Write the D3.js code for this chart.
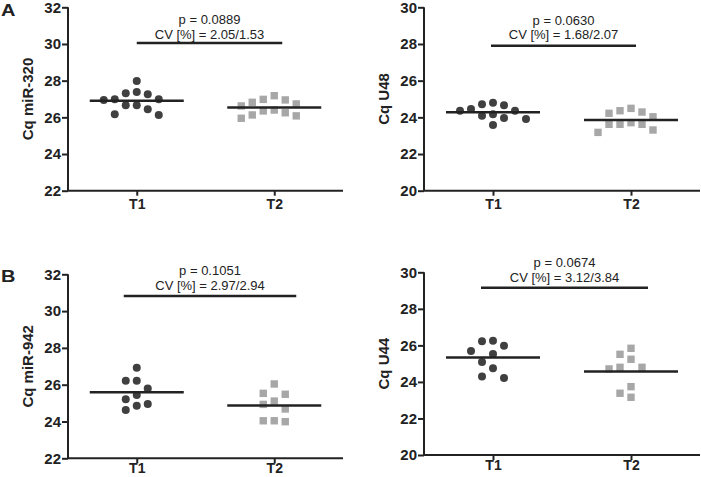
<!DOCTYPE html>
<html>
<head>
<meta charset="utf-8">
<script src="https://cdn.jsdelivr.net/npm/d3@7"></script>
<style>
  body { margin: 0; background: #fff; }
  svg text { font-family: "Liberation Sans", Arial, sans-serif; fill: #222; }
</style>
</head>
<body>
<div id="chart"></div>
<script>
// groups on the x axis
var groups = ["T1", "T2"];

// Cq values
var miR320T1 = [27.98, 27.38, 27.31, 27.26, 26.98, 26.98, 26.95, 26.66, 26.66, 26.44, 26.17, 26.13];
var miR320T2 = [27.18, 26.98, 26.95, 26.82, 26.73, 26.62, 26.40, 26.35, 26.25, 26.13, 26.08, 25.95];
var U48T1 = [24.80, 24.71, 24.66, 24.45, 24.36, 24.36, 24.17, 24.09, 23.96, 23.91, 23.58];
var U48T2 = [24.49, 24.36, 24.29, 24.22, 24.03, 23.71, 23.62, 23.62, 23.62, 23.31, 23.18];
var miR942T1 = [26.92, 26.22, 26.22, 25.80, 25.44, 25.21, 24.95, 24.86, 24.63];
var miR942T2 = [26.04, 25.53, 25.48, 25.11, 24.93, 24.68, 24.04, 24.04, 23.99];
var U44T1 = [26.26, 26.22, 25.98, 25.69, 25.53, 25.09, 24.75, 24.29, 24.21];
var U44T2 = [25.84, 25.51, 25.24, 24.80, 24.80, 24.71, 23.74, 23.38, 23.16];

// axis titles, stats text and ticks
var yTitles = ["Cq miR-320", "Cq U48", "Cq miR-942", "Cq U44"];
var pTexts = ["p = 0.0889", "p = 0.0630", "p = 0.1051", "p = 0.0674"];
var cvTexts = ["CV [%] = 2.05/1.53", "CV [%] = 1.68/2.07", "CV [%] = 2.97/2.94", "CV [%] = 3.12/3.84"];
var ticksMir = [22, 24, 26, 28, 30, 32];
var ticksU = [20, 22, 24, 26, 28, 30];
var bracketLevels = [30.05, 27.9, 30.82, 29.15];
var panelLetters = ["A", "B"];

var width = 701, height = 477;

// layout of the four panels (pixels)
var panels = [
  { x0: 68, x1: 343, top: 7.3, bottom: 190.7, ticks: ticksMir, t1: miR320T1, t2: miR320T2,
    bx: [0, 8], pDy: -19, cvDy: -4, xPad: 3 },
  { x0: 424, x1: 700, top: 7.3, bottom: 190.7, ticks: ticksU, t1: U48T1, t2: U48T2,
    bx: [-2, 5], pDy: -21, cvDy: -7, xPad: 3 },
  { x0: 68, x1: 343, top: 274.3, bottom: 458.3, ticks: ticksMir, t1: miR942T1, t2: miR942T2,
    bx: [-13, 22], pDy: -21, cvDy: -6, xPad: 0 },
  { x0: 424, x1: 700, top: 272.3, bottom: 455, ticks: ticksU, t1: U44T1, t2: U44T2,
    bx: [-12, 17], pDy: -21, cvDy: -6, xPad: 0 }
];

var darkDot = "#404040", lightDot = "#a7a7a7", ink = "#222";
var step = 11, minGap = 10.5;

var svg = d3.select("#chart").append("svg")
  .attr("width", width)
  .attr("height", height);

// simple column swarm: each point goes in the nearest free column
function swarm(values, y, cx) {
  var pts = values.map(function(v) { return { v: v, y: y(v) }; })
    .sort(function(a, b) { return a.y - b.y; });
  var placed = [];
  pts.forEach(function(p) {
    for (var k = 0; k < 20; k++) {
      var slot = k === 0 ? 0 : (k % 2 ? -Math.ceil(k / 2) : Math.ceil(k / 2));
      var clash = placed.some(function(q) { return q.slot === slot && Math.abs(q.y - p.y) < minGap; });
      if (!clash) { p.slot = slot; placed.push(p); break; }
    }
  });
  placed.forEach(function(p) { p.x = cx + p.slot * step; });
  return placed;
}

panels.forEach(function(pn, i) {
  var g = svg.append("g");
  var x = d3.scalePoint().domain(groups).range([pn.x0, pn.x1]).padding(0.5);
  var y = d3.scaleLinear().domain([pn.ticks[0], pn.ticks[pn.ticks.length - 1]]).range([pn.bottom, pn.top]);

  // y axis
  var ya = g.append("g")
    .attr("transform", "translate(" + pn.x0 + ",0)")
    .call(d3.axisLeft(y).tickValues(pn.ticks).tickSize(6).tickPadding(1).tickFormat(d3.format("d")));
  // x axis
  var xa = g.append("g")
    .attr("transform", "translate(0," + pn.bottom + ")")
    .call(d3.axisBottom(x).tickSize(5).tickPadding(pn.xPad));
  [ya, xa].forEach(function(a) {
    a.select(".domain").attr("stroke", ink).attr("stroke-width", 2);
    a.selectAll(".tick line").attr("stroke", ink).attr("stroke-width", 2);
    a.selectAll(".tick text").attr("fill", ink).style("font-weight", "bold");
  });
  ya.select(".domain").attr("d", "M0," + pn.top + "V" + pn.bottom);
  xa.select(".domain").attr("d", "M" + pn.x0 + ",0H" + pn.x1);
  ya.selectAll(".tick text").style("font-size", "15px");
  xa.selectAll(".tick text").style("font-size", "14px");

  // y title
  g.append("text")
    .attr("transform", "translate(" + (pn.x0 - 35) + "," + ((pn.top + pn.bottom) / 2) + ") rotate(-90)")
    .attr("text-anchor", "middle")
    .style("font-size", "15px")
    .style("font-weight", "bold")
    .text(yTitles[i]);

  // points
  var sets = [pn.t1, pn.t2];
  sets.forEach(function(vals, j) {
    var cx = x(groups[j]);
    var pts = swarm(vals, y, cx);
    if (j === 0) {
      g.selectAll(null).data(pts).enter().append("circle")
        .attr("cx", function(d) { return d.x; })
        .attr("cy", function(d) { return d.y; })
        .attr("r", 4)
        .attr("fill", darkDot);
    } else {
      g.selectAll(null).data(pts).enter().append("rect")
        .attr("x", function(d) { return d.x - 3.7; })
        .attr("y", function(d) { return d.y - 3.7; })
        .attr("width", 7.4)
        .attr("height", 7.4)
        .attr("fill", lightDot);
    }
    // mean line
    var m = d3.mean(vals);
    g.append("line")
      .attr("x1", cx - 47).attr("x2", cx + 47)
      .attr("y1", y(m)).attr("y2", y(m))
      .attr("stroke", ink)
      .attr("stroke-width", 2.5);
  });

  // comparison bracket with stats
  var by = y(bracketLevels[i]);
  var bx1 = x(groups[0]) + pn.bx[0], bx2 = x(groups[1]) + pn.bx[1];
  g.append("line")
    .attr("x1", bx1).attr("x2", bx2)
    .attr("y1", by).attr("y2", by)
    .attr("stroke", ink)
    .attr("stroke-width", 2.5);
  var mid = (bx1 + bx2) / 2;
  g.append("text").attr("x", mid).attr("y", by + pn.pDy)
    .attr("text-anchor", "middle").style("font-size", "13px").text(pTexts[i]);
  g.append("text").attr("x", mid).attr("y", by + pn.cvDy)
    .attr("text-anchor", "middle").style("font-size", "13px").text(cvTexts[i]);
});

// panel letters
svg.selectAll(".letter")
  .data(panelLetters)
  .enter()
  .append("text")
    .attr("class", "letter")
    .attr("transform", function(d, i) { return "translate(1," + (i === 0 ? 16 : 282) + ") scale(1.25,1)"; })
    .style("font-size", "16px")
    .style("font-weight", "bold")
    .text(function(d) { return d; });
</script>
</body>
</html>
